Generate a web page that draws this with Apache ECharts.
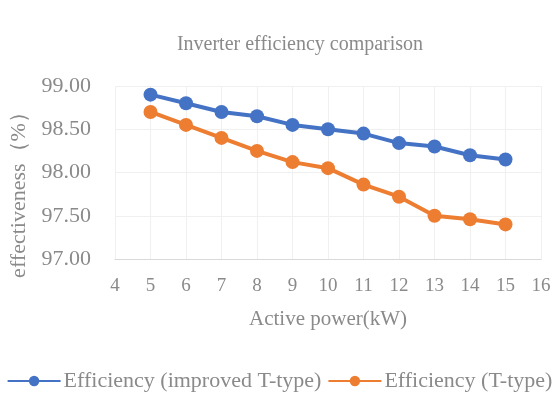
<!DOCTYPE html>
<html>
<head>
<meta charset="utf-8">
<script src="https://cdn.jsdelivr.net/npm/echarts@6/dist/echarts.min.js"></script>
<style>
  html, body { margin: 0; padding: 0; background: #fff; }
  #chart { width: 559px; height: 394px; }
</style>
</head>
<body>
<div id="chart"></div>
<script>
// Active power (kW)
const powerKW = [5, 6, 7, 8, 9, 10, 11, 12, 13, 14, 15];
// Efficiency of the improved T-type inverter (%)
const effImproved = [98.90, 98.80, 98.70, 98.65, 98.55, 98.50, 98.45, 98.34, 98.30, 98.20, 98.15];
// Efficiency of the conventional T-type inverter (%)
const effTType = [98.70, 98.55, 98.40, 98.25, 98.12, 98.05, 97.86, 97.72, 97.50, 97.46, 97.40];

const seriesNames = ['Efficiency (improved T-type)', 'Efficiency (T-type)'];

const font = '"Liberation Serif", "Times New Roman", serif';
const textGray = '#8a8a8a';

const chart = echarts.init(document.getElementById('chart'));

function pairs(ys) {
  return powerKW.map((x, i) => [x, ys[i]]);
}

chart.setOption({
  animation: false,
  title: {
    text: 'Inverter efficiency comparison',
    left: 295,
    textAlign: 'center',
    top: 30,
    textStyle: { fontFamily: font, fontSize: 20, fontWeight: 'normal', color: textGray }
  },
  grid: { left: 115, right: 18, top: 86, bottom: 135 },
  legend: {
    bottom: -3,
    left: 'center',
    itemGap: 6,
    itemWidth: 53,
    itemHeight: 13,
    textStyle: { fontFamily: font, fontSize: 22, color: textGray, padding: [0, 0, 0, -2] },
    data: seriesNames
  },
  xAxis: {
    type: 'value',
    min: 4,
    max: 16,
    interval: 1,
    name: 'Active power(kW)',
    nameLocation: 'middle',
    nameGap: 50,
    nameTextStyle: { fontFamily: font, fontSize: 21, color: textGray },
    axisLine: { show: true, lineStyle: { color: '#d9d9d9', width: 1 } },
    axisTick: { show: false },
    axisLabel: { fontFamily: font, fontSize: 19, color: textGray, margin: 18 },
    splitLine: { show: true, lineStyle: { color: '#f0f0f0', width: 1 } }
  },
  yAxis: {
    type: 'value',
    min: 97,
    max: 99,
    interval: 0.5,
    name: 'effectiveness（%）',
    nameLocation: 'middle',
    nameRotate: 90,
    nameGap: 82,
    nameTextStyle: { fontFamily: font, fontSize: 22, color: textGray, padding: [0, 34, 0, 0] },
    axisLine: { show: false },
    axisTick: { show: false },
    axisLabel: {
      fontFamily: font, fontSize: 22, color: textGray, margin: 24,
      formatter: v => v.toFixed(2)
    },
    splitLine: { show: true, lineStyle: { color: '#f0f0f0', width: 1 } }
  },
  series: [
    {
      name: seriesNames[0],
      type: 'line',
      data: pairs(effImproved),
      symbol: 'circle',
      symbolSize: 14,
      color: '#4472C4',
      lineStyle: { width: 4 }
    },
    {
      name: seriesNames[1],
      type: 'line',
      data: pairs(effTType),
      symbol: 'circle',
      symbolSize: 14,
      color: '#ED7D31',
      lineStyle: { width: 4 }
    }
  ]
});
</script>
</body>
</html>
